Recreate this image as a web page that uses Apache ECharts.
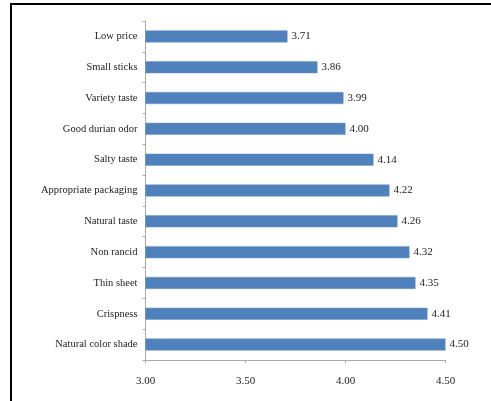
<!DOCTYPE html>
<html>
<head>
<meta charset="utf-8">
<style>
  html, body { margin: 0; padding: 0; background: #fff; }
  #chart { width: 491px; height: 401px; }
</style>
<script src="https://cdn.jsdelivr.net/npm/echarts@6/dist/echarts.min.js"></script>
</head>
<body>
<div id="chart"></div>
<script>
// Product attributes, listed top to bottom
const attributes = [
  'Low price', 'Small sticks', 'Variety taste', 'Good durian odor', 'Salty taste',
  'Appropriate packaging', 'Natural taste', 'Non rancid', 'Thin sheet', 'Crispness',
  'Natural color shade'
];
// Mean scores for each attribute
const meanScores = [3.71, 3.86, 3.99, 4.00, 4.14, 4.22, 4.26, 4.32, 4.35, 4.41, 4.50];
// Value axis range and step
const axisMin = 3.0;
const axisMax = 4.5;
const axisStep = 0.5;

const font = '"Liberation Serif", "Times New Roman", serif';
const chart = echarts.init(document.getElementById('chart'), null, { renderer: 'canvas' });

chart.setOption({
  animation: false,
  backgroundColor: '#ffffff',
  grid: { left: 145.5, right: 45.5, top: 21, bottom: 41, containLabel: false },
  xAxis: {
    type: 'value',
    min: axisMin, max: axisMax, interval: axisStep,
    axisLine: { show: true, lineStyle: { color: '#a8a8a8', width: 1 } },
    axisTick: { show: true, length: 3, lineStyle: { color: '#a8a8a8' } },
    splitLine: { show: false },
    axisLabel: {
      margin: 16, color: '#222', fontFamily: font, fontSize: 11,
      formatter: v => v.toFixed(2)
    }
  },
  yAxis: {
    type: 'category',
    data: attributes,
    inverse: true,
    axisLine: { show: true, lineStyle: { color: '#a8a8a8', width: 1 } },
    axisTick: { show: true, length: 3, lineStyle: { color: '#a8a8a8' } },
    axisLabel: { margin: 8, color: '#222', fontFamily: font, fontSize: 10.5 }
  },
  series: [{
    type: 'bar',
    data: meanScores,
    barWidth: '39%',
    itemStyle: { color: '#4f81bd', borderColor: '#6f97c8', borderWidth: 0.5 },
    label: {
      show: true, position: 'right', distance: 4,
      color: '#222', fontFamily: font, fontSize: 11,
      formatter: p => p.value.toFixed(2)
    }
  }],
  graphic: [
    { type: 'line', shape: { x1: 10, y1: 4, x2: 491, y2: 4 }, style: { stroke: '#000', lineWidth: 2 } },
    { type: 'line', shape: { x1: 11, y1: 3, x2: 11, y2: 401 }, style: { stroke: '#000', lineWidth: 2 } }
  ]
});
</script>
</body>
</html>
